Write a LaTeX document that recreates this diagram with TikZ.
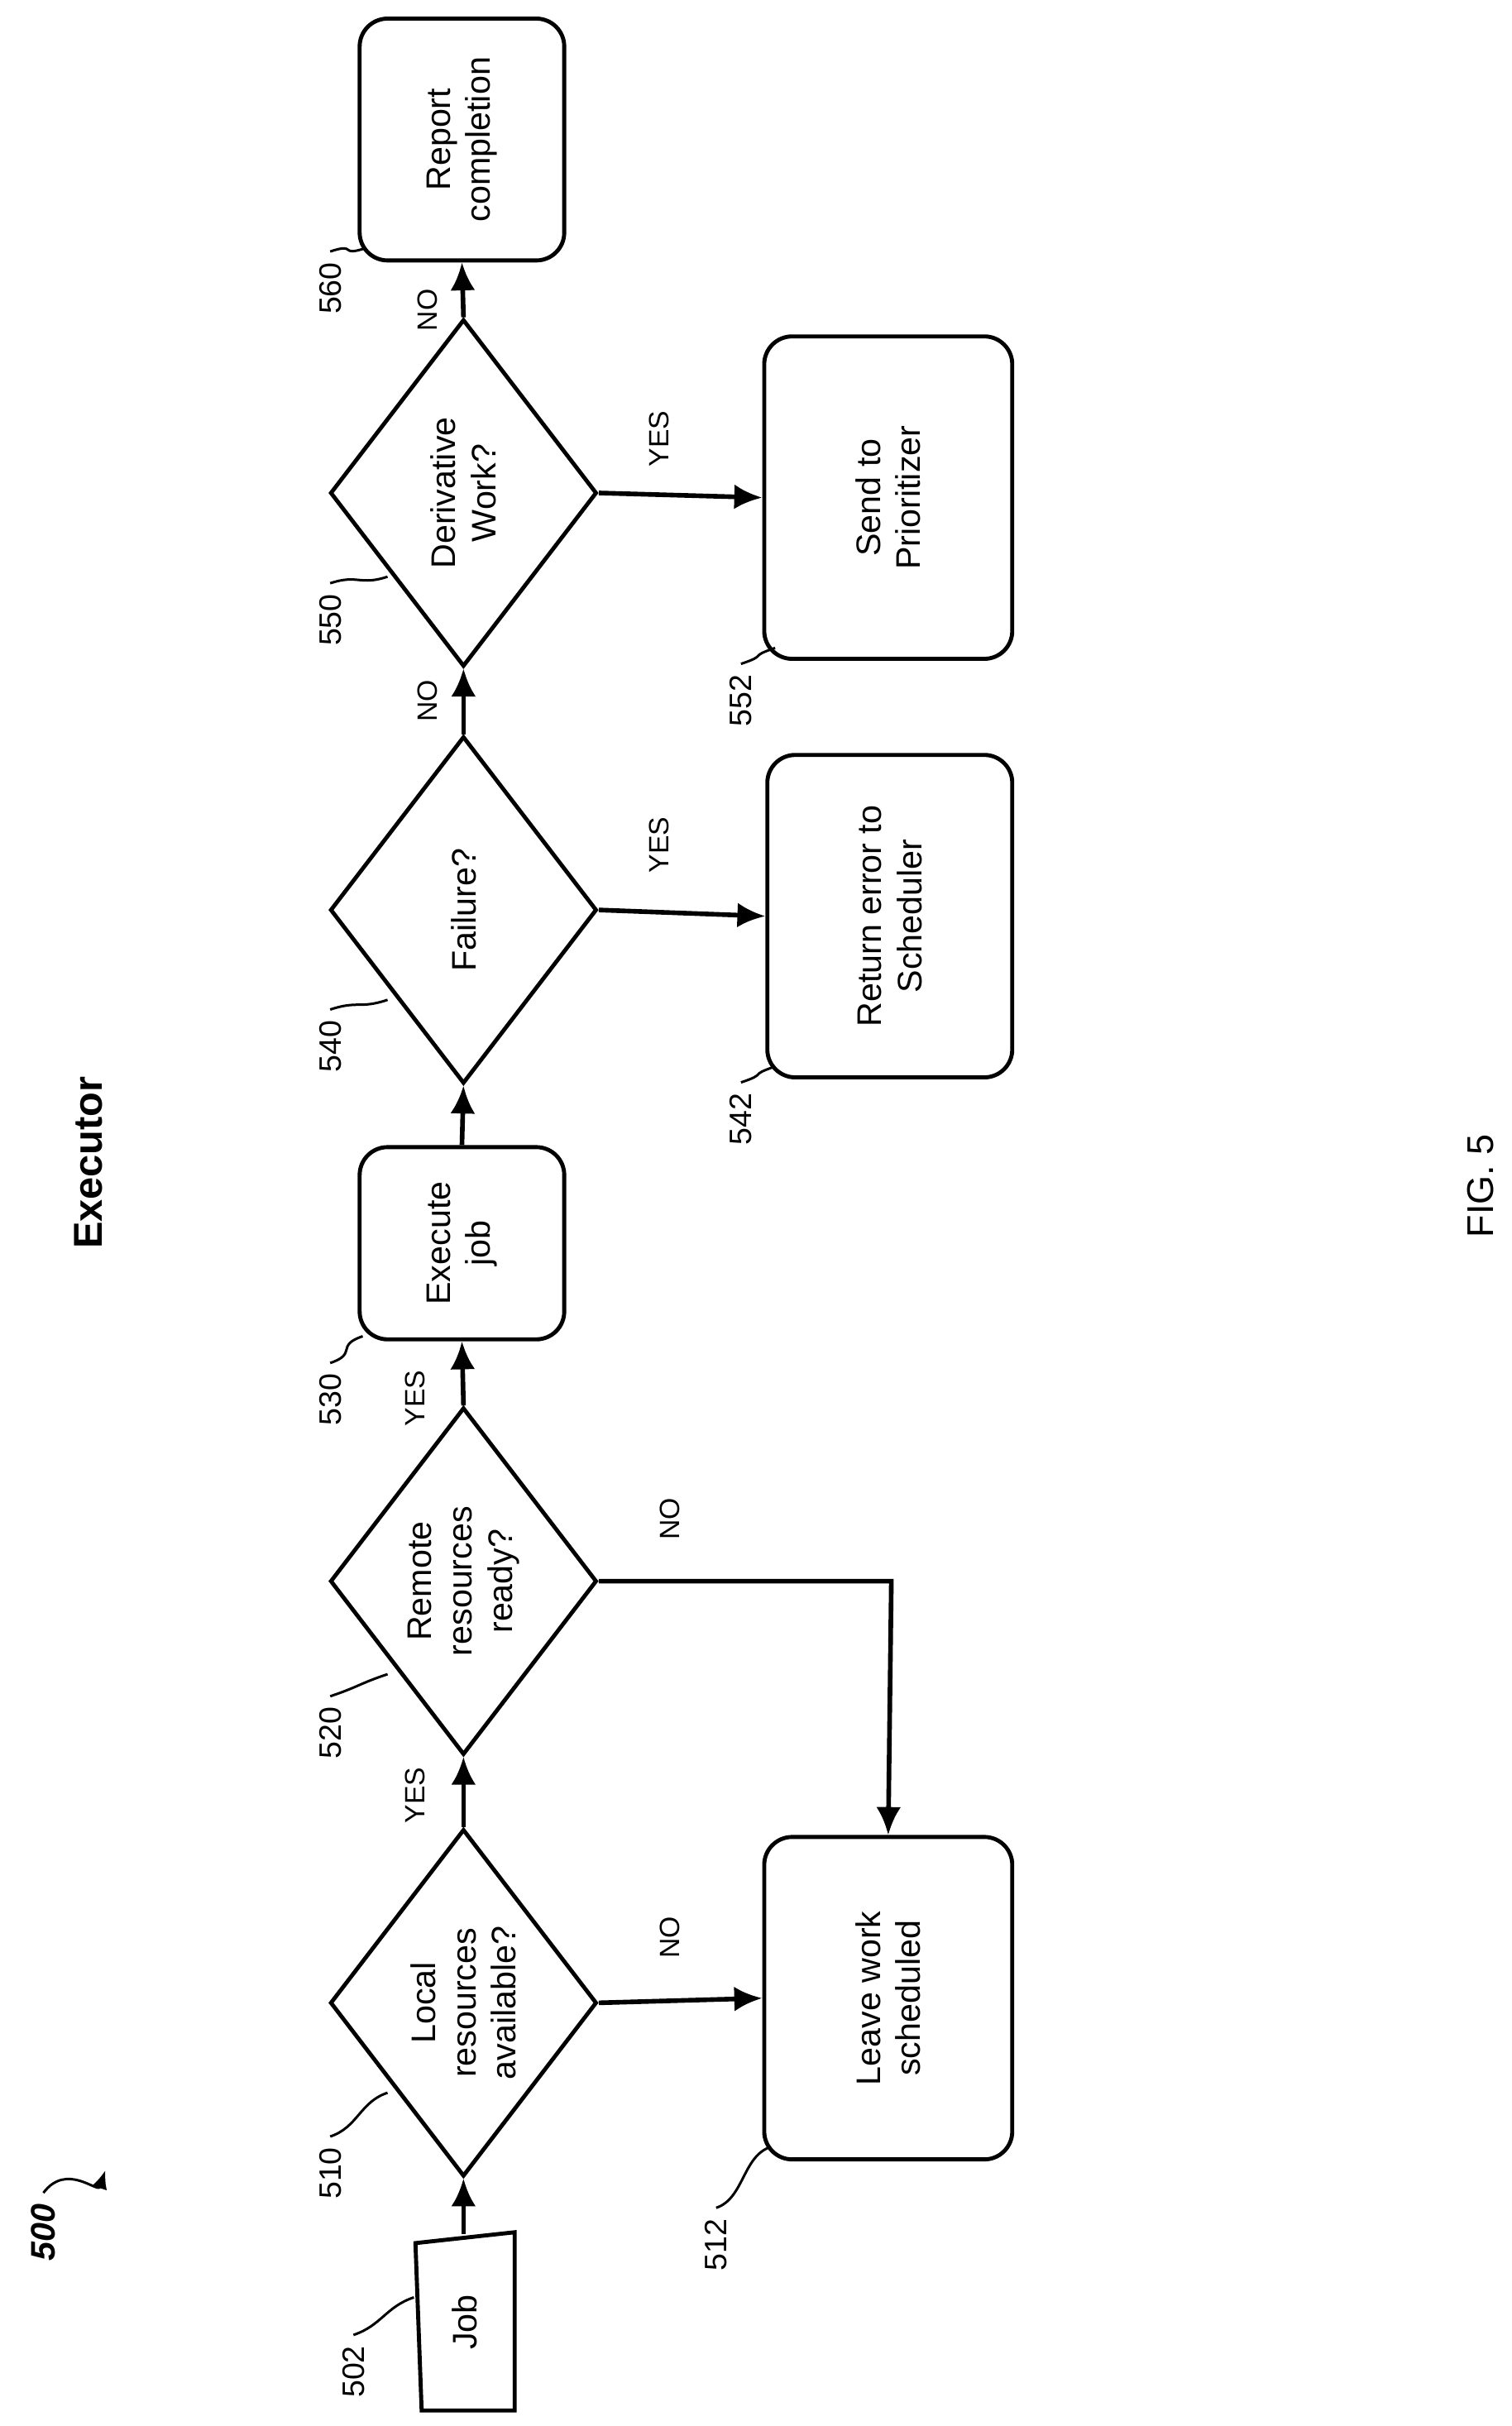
\documentclass[tikz,border=0pt]{standalone}
\usepackage{fontspec}
\setmainfont{Liberation Sans}
\usetikzlibrary{shapes.geometric,arrows.meta}
\begin{document}
\begin{tikzpicture}[x=0.5pt,y=-0.5pt,
  every node/.style={font=\fontsize{11}{13}\selectfont},
  dia/.style={draw,line width=1.3pt,diamond,rotate=90,minimum width=112pt,minimum height=86pt,inner sep=0pt,align=center},
  box/.style={draw,line width=1.3pt,rounded corners=9pt,rotate=90,align=center},
  arr/.style={line width=1.5pt,-{Latex[length=9pt,width=8pt]}},
  lab/.style={rotate=90,font=\fontsize{10}{12}\selectfont},
  sq/.style={line width=0.8pt},
  el/.style={rotate=90,font=\fontsize{9}{11}\selectfont}]
\useasboundingbox (0,0) rectangle (975,1565);
\node[rotate=90,font=\bfseries\fontsize{13}{15}\selectfont] (title) at (57,750) {Executor};
\node[rotate=90,font=\fontsize{12}{14}\selectfont] (fig) at (955,765) {FIG. 5};
\node[rotate=90,font=\bfseries\itshape\fontsize{11}{13}\selectfont] (n500) at (28,1440) {500};
\coordinate (a500) at (68,1400);
\draw[sq,-{Latex[length=6pt,width=5pt]}] (n500.east) .. controls +(15,-20) and +(-5,15) .. (a500);
% job
\coordinate (j1) at (268,1447); \coordinate (j2) at (332,1440);
\coordinate (j3) at (332,1555); \coordinate (j4) at (272,1555);
\draw[line width=1.3pt] (j1)--(j2)--(j3)--(j4)--cycle;
\node[rotate=90] (job) at (300,1498) {Job};
\coordinate (jobtop) at (299,1441);
\node[dia] (d510) at (299,1292) {Local\\resources\\available?};
\node[box,minimum width=104pt,minimum height=80pt] (b512) at (573,1289) {Leave work\\scheduled};
\node[dia] (d520) at (299,1020) {Remote\\resources\\ready?};
\node[box,minimum width=62pt,minimum height=66pt] (b530) at (298,802) {Execute\\job};
\node[dia] (d540) at (299,587) {Failure?};
\node[box,minimum width=104pt,minimum height=79pt] (b542) at (574,591) {Return error to\\Scheduler};
\node[dia] (d550) at (299,318) {Derivative\\Work?};
\node[box,minimum width=104pt,minimum height=80pt] (b552) at (573,321) {Send to\\Prioritizer};
\node[box,minimum width=78pt,minimum height=66pt] (b560) at (298,90) {Report\\completion};
% edges
\draw[arr] (jobtop) -- (d510.west);
\draw[arr] (d510.east) -- (d520.west);
\draw[arr] (d510.south) -- (b512.north);
\draw[arr] (d520.south) -- (575,1020) -- (b512.east);
\draw[arr] (d520.east) -- (b530.west);
\draw[arr] (b530.east) -- (d540.west);
\draw[arr] (d540.south) -- (b542.north);
\draw[arr] (d540.east) -- (d550.west);
\draw[arr] (d550.south) -- (b552.north);
\draw[arr] (d550.east) -- (b560.west);
\node[el] (e1) at (268,1158) {YES};
\node[el] (e2) at (432,1250) {NO};
\node[el] (e3) at (268,902) {YES};
\node[el] (e4) at (432,980) {NO};
\node[el] (e5) at (425,545) {YES};
\node[el] (e6) at (276,452) {NO};
\node[el] (e7) at (425,283) {YES};
\node[el] (e8) at (276,200) {NO};
% reference labels
\node[lab] (l502) at (228,1530) {502}; \coordinate (t502) at (267,1482);
\node[lab] (l510) at (213,1402) {510}; \coordinate (t510) at (250,1350);
\node[lab] (l512) at (462,1448) {512}; \coordinate (t512) at (497,1385);
\node[lab] (l520) at (213,1118) {520}; \coordinate (t520) at (250,1080);
\node[lab] (l530) at (213,903) {530}; \coordinate (t530) at (234,862);
\node[lab] (l540) at (213,675) {540}; \coordinate (t540) at (250,645);
\node[lab] (l542) at (478,722) {542}; \coordinate (t542) at (500,688);
\node[lab] (l550) at (213,400) {550}; \coordinate (t550) at (250,372);
\node[lab] (l552) at (478,452) {552}; \coordinate (t552) at (500,418);
\node[lab] (l560) at (213,186) {560}; \coordinate (t560) at (236,160);
\foreach \n in {502,510,512,520,530,540,542,550,552,560}
  \draw[sq] (l\n.east) .. controls +(18,-6) and +(-18,6) .. (t\n);
\end{tikzpicture}
\end{document}
